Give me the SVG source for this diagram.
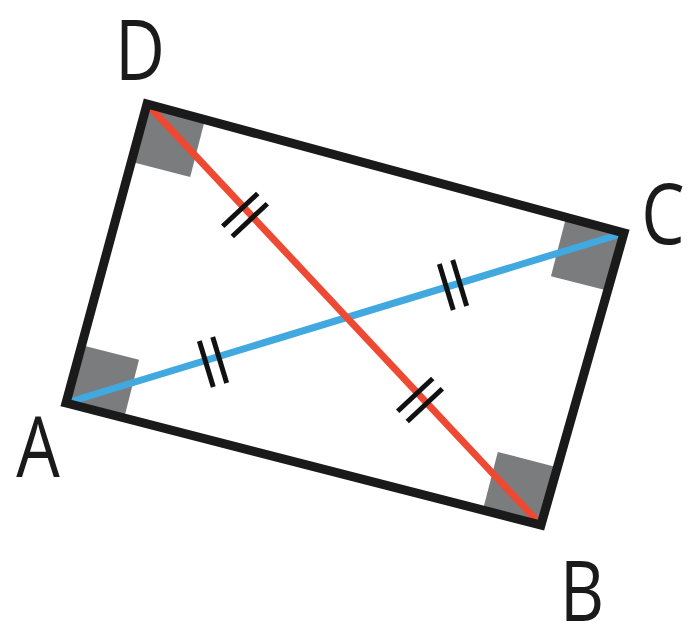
<svg xmlns="http://www.w3.org/2000/svg" width="700" height="633" viewBox="0 0 700 633">
<style>
.sq{fill:#7a7c7d}
.lbl{font-family:"Open Sans","Liberation Sans",sans-serif;font-size:84px;fill:#1a1a1a;text-anchor:middle}
.tk{stroke:#111;stroke-width:5}
</style>
<rect width="700" height="633" fill="#fff"/>
<g id="angles">
<rect class="sq" x="0" y="-60" width="60" height="60" transform="translate(66,403) rotate(14.4)"/>
<rect class="sq" x="-60" y="-60" width="60" height="60" transform="translate(541,525) rotate(14.4)"/>
<rect class="sq" x="-60" y="0" width="60" height="60" transform="translate(624,233) rotate(14.4)"/>
<rect class="sq" x="0" y="0" width="60" height="60" transform="translate(147,104) rotate(14.4)"/>
</g>
<g id="connectors">
<line x1="66" y1="403" x2="624" y2="233" stroke="#41a8e0" stroke-width="7"/>
<line x1="147" y1="104" x2="541" y2="525" stroke="#ee4a33" stroke-width="7"/>
<polygon points="66,403 541,525 624,233 147,104" fill="none" stroke="#1a1a1a" stroke-width="9" stroke-linejoin="miter"/>
<g transform="translate(213,362) rotate(-16.9)"><line class="tk" x1="-7" y1="-24" x2="-7" y2="24"/><line class="tk" x1="7" y1="-24" x2="7" y2="24"/></g>
<g transform="translate(453,285) rotate(-16.9)"><line class="tk" x1="-7" y1="-24" x2="-7" y2="24"/><line class="tk" x1="7" y1="-24" x2="7" y2="24"/></g>
<g transform="translate(245,215) rotate(46.9)"><line class="tk" x1="-7" y1="-24" x2="-7" y2="24"/><line class="tk" x1="7" y1="-24" x2="7" y2="24"/></g>
<g transform="translate(420,400) rotate(46.9)"><line class="tk" x1="-7" y1="-24" x2="-7" y2="24"/><line class="tk" x1="7" y1="-24" x2="7" y2="24"/></g>
</g>
<g id="A"><text class="lbl" transform="translate(38,477) scale(0.82,1)">A</text></g>
<g id="B"><text class="lbl" transform="translate(582,621) scale(0.82,1)">B</text></g>
<g id="C"><text class="lbl" transform="translate(663,244) scale(0.82,1)">C</text></g>
<g id="D"><text class="lbl" transform="translate(140,80) scale(0.82,1)">D</text></g>
</svg>
